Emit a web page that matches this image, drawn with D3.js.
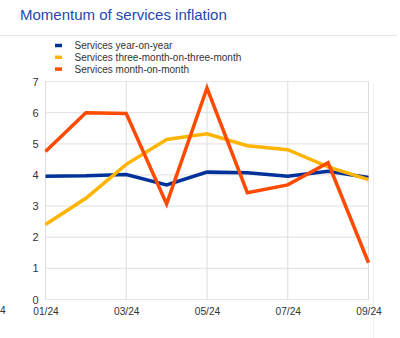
<!DOCTYPE html>
<html><head><meta charset="utf-8">
<script src="https://cdn.jsdelivr.net/npm/d3@7"></script>
<style>body{margin:0;background:#fff;}svg{display:block;}</style>
</head><body>
<script>
const months = ["01/24","02/24","03/24","04/24","05/24","06/24","07/24","08/24","09/24"];
const tickMonths = ["01/24","03/24","05/24","07/24","09/24"];
const yoy = [3.96, 3.97, 4.01, 3.68, 4.09, 4.07, 3.96, 4.12, 3.92];
const threeOnThree = [2.41, 3.25, 4.34, 5.14, 5.32, 4.94, 4.81, 4.26, 3.85];
const monthOnMonth = [4.75, 6.00, 5.97, 3.07, 6.79, 3.43, 3.68, 4.39, 1.18];
const yTicks = [0,1,2,3,4,5,6,7];
const seriesNames = ["Services year-on-year","Services three-month-on-three-month","Services month-on-month"];
const seriesColors = ["#003299","#ffb400","#ff4b00"];

const W = 400, H = 338;
const svg = d3.select("body").append("svg").attr("width", W).attr("height", H);
const font = "'Liberation Sans', Arial, sans-serif";

svg.append("text").attr("x", 20).attr("y", 20).attr("font-family", font)
  .attr("font-size", 15).attr("fill", "#2347b5").text("Momentum of services inflation");
svg.append("line").attr("x1", 0).attr("x2", 397).attr("y1", 35.5).attr("y2", 35.5)
  .attr("stroke", "#e4e4e4").attr("stroke-width", 1);

const x = d3.scalePoint().domain(months).range([45.5, 368.5]);
const y = d3.scaleLinear().domain([0, 7]).range([299.5, 81.5]);

// grid
const g = svg.append("g");
g.selectAll(".hg").data(yTicks).join("line")
  .attr("x1", 45.5).attr("x2", 368.5).attr("y1", d => y(d)).attr("y2", d => y(d))
  .attr("stroke", "#e6e6e6").attr("stroke-width", 1.2);
g.selectAll(".vg").data(tickMonths).join("line")
  .attr("x1", d => x(d)).attr("x2", d => x(d)).attr("y1", y(7)).attr("y2", y(0))
  .attr("stroke", "#dcdcdc").attr("stroke-width", 1);
svg.append("line").attr("x1", 373.5).attr("x2", 373.5).attr("y1", 83).attr("y2", 338)
  .attr("stroke", "#f0f0f0");

// axes
const yAxis = d3.axisLeft(y).tickValues(yTicks).tickSize(0).tickPadding(7).tickFormat(d3.format("d"));
const ya = svg.append("g").attr("transform", "translate(45.5,0)").call(yAxis);
ya.select(".domain").remove();
ya.selectAll("text").attr("font-family", font).attr("font-size", 11).attr("fill", "#333");

const xAxis = d3.axisBottom(x).tickValues(tickMonths).tickSize(0).tickPadding(8);
const xa = svg.append("g").attr("transform", `translate(0,${y(0)})`).call(xAxis);
xa.select(".domain").remove();
xa.selectAll("text").attr("font-family", font).attr("font-size", 10.2).attr("fill", "#333");
// fragment of a label at the far left edge
svg.append("text").attr("x", 0).attr("y", 313.5).attr("text-anchor", "start")
  .attr("font-family", font).attr("font-size", 10.2).attr("fill", "#333").text("4");

// lines
const line = d3.line().x((d, i) => x(months[i])).y(d => y(d));
const allSeries = [yoy, threeOnThree, monthOnMonth];
svg.selectAll(".series").data(allSeries).join("path")
  .attr("d", d => line(d)).attr("fill", "none")
  .attr("stroke", (d, i) => seriesColors[i]).attr("stroke-width", 3.5)
  .attr("stroke-linejoin", "miter").attr("stroke-linecap", "butt");

// legend
const lg = svg.append("g");
seriesNames.forEach((n, i) => {
  const yy = 45.5 + i * 11.8;
  lg.append("line").attr("x1", 55).attr("x2", 62).attr("y1", yy).attr("y2", yy)
    .attr("stroke", seriesColors[i]).attr("stroke-width", 3.5);
  lg.append("text").attr("x", 74.5).attr("y", yy + 3.8).attr("font-family", font)
    .attr("font-size", 10).attr("fill", "#333").text(n);
});
</script>
</body></html>
